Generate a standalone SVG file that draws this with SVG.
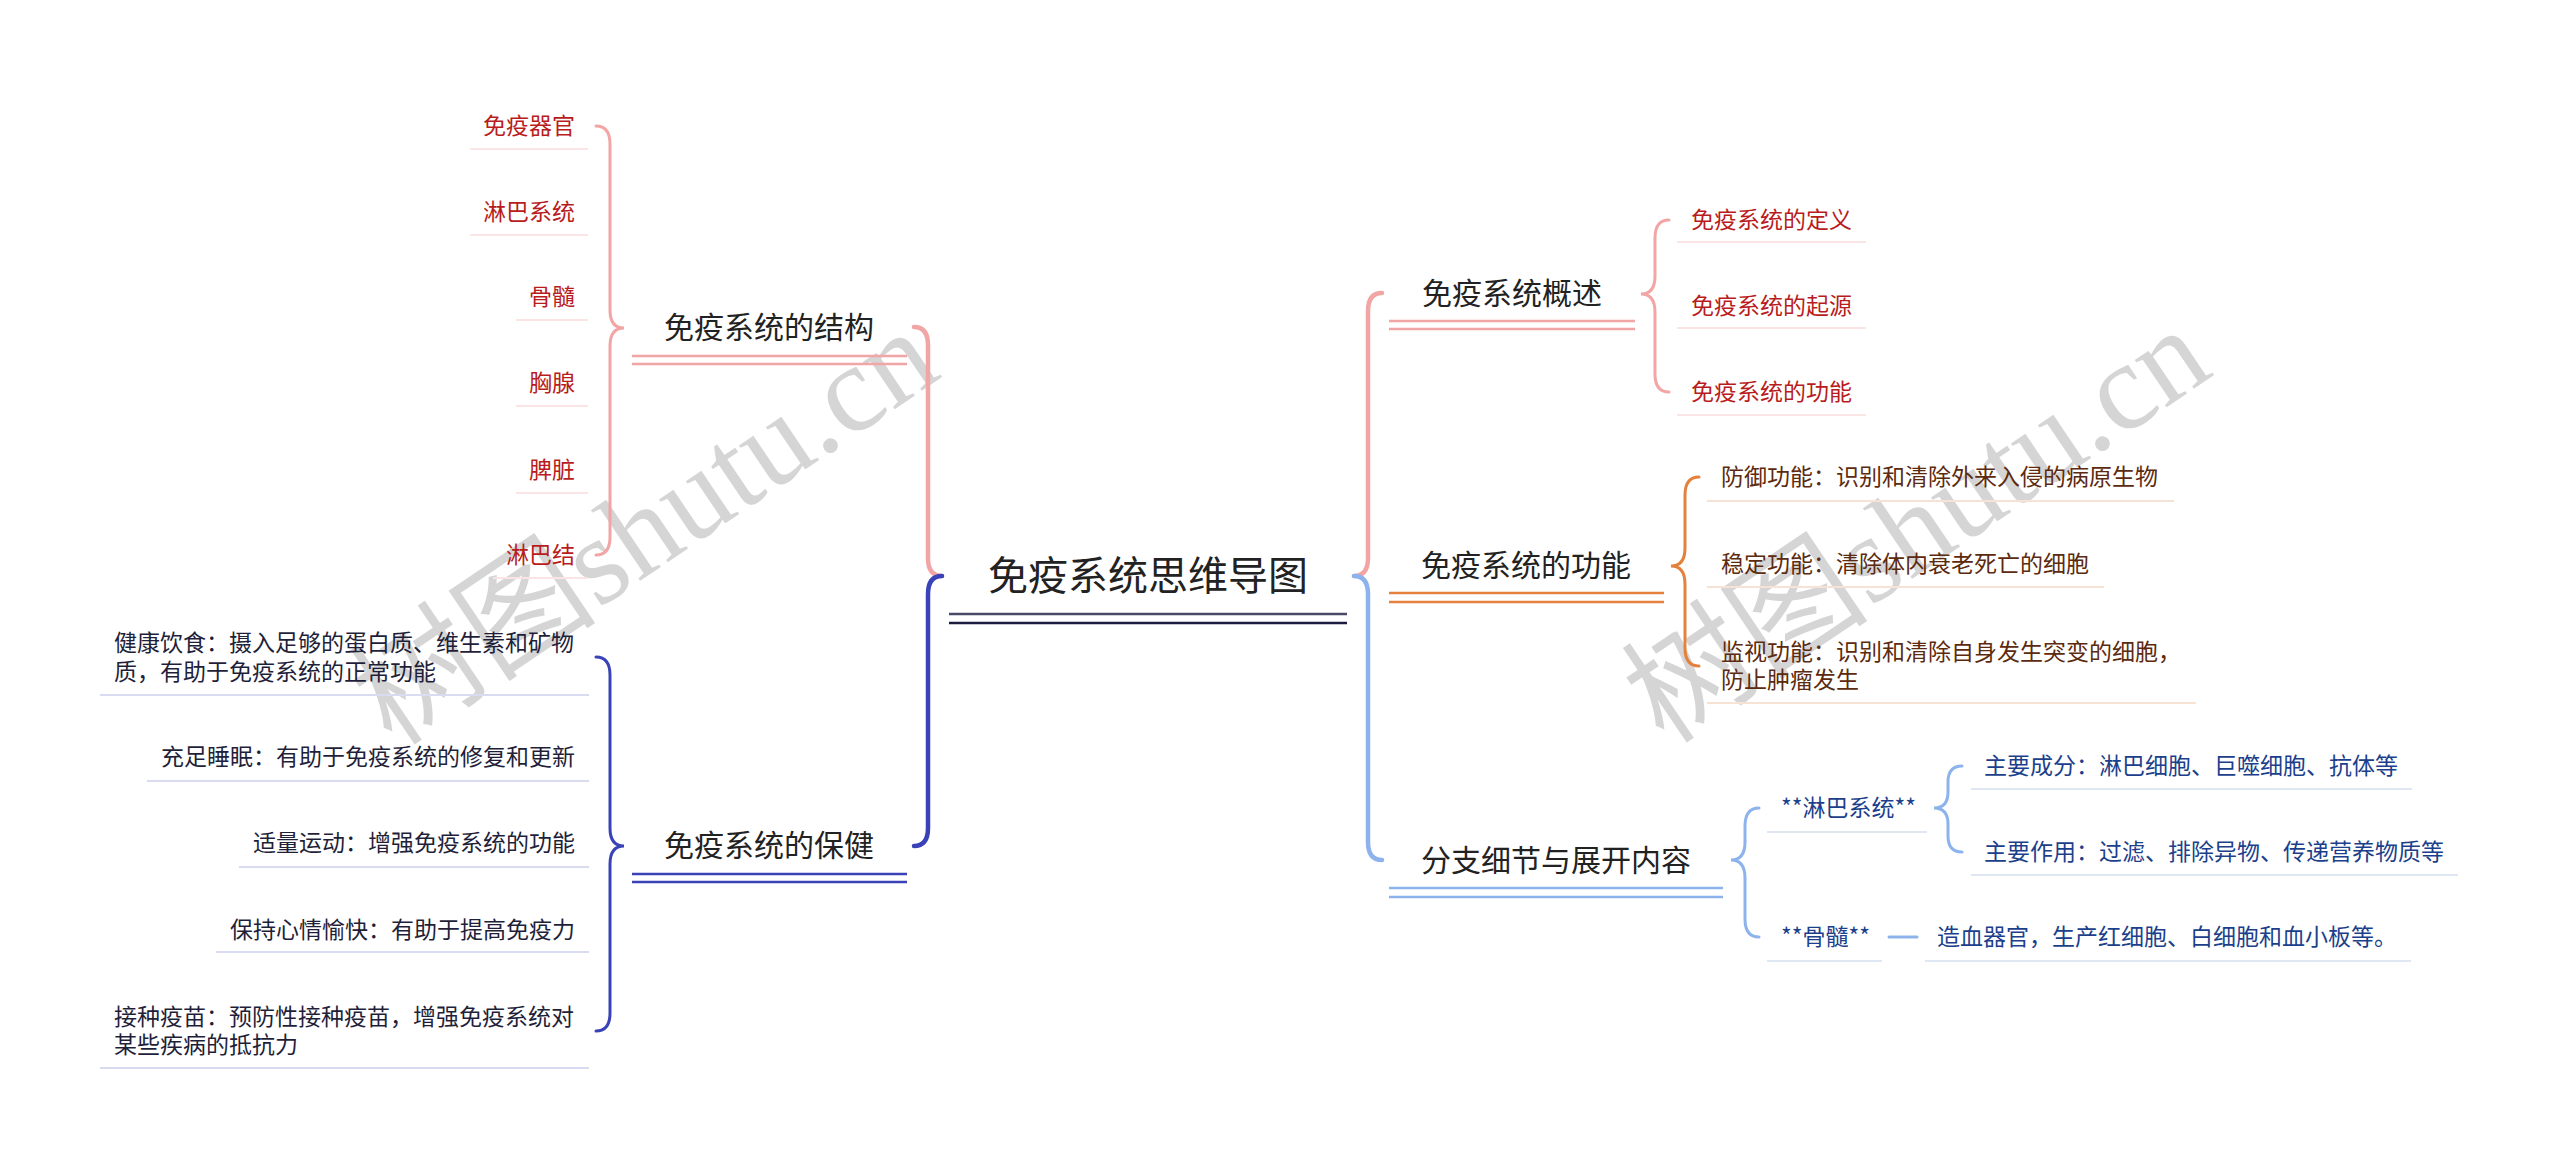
<svg xmlns="http://www.w3.org/2000/svg" width="2560" height="1168" viewBox="0 0 2560 1168">
<style>
text{font-family:"Noto Sans CJK SC","Noto Sans",sans-serif}
.root{font-size:40px;fill:#222}
.main{font-size:30px;fill:#222}
.leaf{font-size:23px}
.red{fill:#b81c1c}
.navy{fill:#1f1f3a}
.brown{fill:#5c2a0e}
.blue{fill:#1c3f8c}
.br{fill:none;stroke-linecap:round}
.pink{stroke:#f2a5a5}
.dblue{stroke:#3a42b8}
.lblue{stroke:#8db3ec}
.orange{stroke:#e4813c}
.ul{stroke-width:2.5;fill:none}
.lul{stroke-width:2;fill:none}
.wm{font-size:124px;fill:#9c9c9c;opacity:0.42}
</style>
<rect width="2560" height="1168" fill="#fff"/>

<g id="watermarks">
<text class="wm" transform="translate(668 562) rotate(-34)" text-anchor="middle">树图<tspan font-family="Liberation Serif, serif">shutu.cn</tspan></text>
<text class="wm" transform="translate(1940 560) rotate(-34)" text-anchor="middle">树图<tspan font-family="Liberation Serif, serif">shutu.cn</tspan></text>
</g>

<g id="connectors">
<path class="br pink" stroke-width="4.5" d="M914 327 Q928 327 928 345 L928 558 Q928 576 942 576"/>
<path class="br dblue" stroke-width="4.5" d="M942 576 Q928 576 928 594 L928 828 Q928 846 914 846"/>
<path class="br pink" stroke-width="4.5" d="M1382 293 Q1368 293 1368 311 L1368 558 Q1368 576 1354 576"/>
<path class="br lblue" stroke-width="4.5" d="M1354 576 Q1368 576 1368 594 L1368 842 Q1368 860 1382 860"/>
<path class="br pink" stroke-width="3" d="M596 126 Q610 126 610 144 L610 310 Q610 328 624 328 Q610 328 610 346 L610 537 Q610 555 596 555"/>
<path class="br dblue" stroke-width="3" d="M596 657 Q610 657 610 675 L610 828 Q610 846 624 846 Q610 846 610 864 L610 1013 Q610 1031 596 1031"/>
<path class="br pink" stroke-width="3" d="M1669 220 Q1655 220 1655 238 L1655 276 Q1655 294 1641 294 Q1655 294 1655 312 L1655 374 Q1655 392 1669 392"/>
<path class="br orange" stroke-width="3" d="M1699 477 Q1685 477 1685 495 L1685 548 Q1685 566 1671 566 Q1685 566 1685 584 L1685 648 Q1685 666 1699 666"/>
<path class="br lblue" stroke-width="3" d="M1759 808 Q1745 808 1745 826 L1745 842 Q1745 860 1731 860 Q1745 860 1745 878 L1745 919 Q1745 937 1759 937"/>
<path class="br lblue" stroke-width="3" d="M1962 766 Q1948 766 1948 782 L1948 792 Q1948 808 1934 808 Q1948 808 1948 824 L1948 836 Q1948 852 1962 852"/>
<path class="br lblue" stroke-width="3" d="M1889 937 L1917 937"/>
</g>

<g id="root">
<text class="root" x="1148" y="590" text-anchor="middle">免疫系统思维导图</text>
<path class="ul" stroke="#4a4a66" d="M949 614 H1347"/>
<path class="ul" stroke="#1c1c40" d="M949 623 H1347"/>
</g>

<g id="n-structure">
<text class="main" x="769" y="338" text-anchor="middle">免疫系统的结构</text>
<path class="ul pink" d="M632 356 H907 M632 364 H907"/>
</g>
<g id="n-care">
<text class="main" x="769" y="856" text-anchor="middle">免疫系统的保健</text>
<path class="ul dblue" d="M632 874 H907 M632 882 H907"/>
</g>
<g id="n-overview">
<text class="main" x="1512" y="304" text-anchor="middle">免疫系统概述</text>
<path class="ul pink" d="M1389 321 H1635 M1389 329 H1635"/>
</g>
<g id="n-function">
<text class="main" x="1526" y="576" text-anchor="middle">免疫系统的功能</text>
<path class="ul orange" d="M1389 593 H1664 M1389 602 H1664"/>
</g>
<g id="n-branch">
<text class="main" x="1556" y="871" text-anchor="middle">分支细节与展开内容</text>
<path class="ul lblue" d="M1389 888 H1723 M1389 897 H1723"/>
</g>

<g id="s1"><text class="leaf red" x="575" y="134" text-anchor="end">免疫器官</text><path class="lul" stroke="#fbe4e4" d="M470 149 H588"/></g>
<g id="s2"><text class="leaf red" x="575" y="220" text-anchor="end">淋巴系统</text><path class="lul" stroke="#fbe4e4" d="M470 235 H588"/></g>
<g id="s3"><text class="leaf red" x="575" y="305" text-anchor="end">骨髓</text><path class="lul" stroke="#fbe4e4" d="M516 320 H588"/></g>
<g id="s4"><text class="leaf red" x="575" y="391" text-anchor="end">胸腺</text><path class="lul" stroke="#fbe4e4" d="M516 406 H588"/></g>
<g id="s5"><text class="leaf red" x="575" y="478" text-anchor="end">脾脏</text><path class="lul" stroke="#fbe4e4" d="M516 493 H588"/></g>
<g id="s6"><text class="leaf red" x="575" y="563" text-anchor="end">淋巴结</text><path class="lul" stroke="#fbe4e4" d="M493 578 H588"/></g>

<g id="c1"><text class="leaf navy" x="114" y="651">健康饮食：摄入足够的蛋白质、维生素和矿物</text><text class="leaf navy" x="114" y="680">质，有助于免疫系统的正常功能</text><path class="lul" stroke="#d9dcf0" d="M100 695 H589"/></g>
<g id="c2"><text class="leaf navy" x="575" y="765" text-anchor="end">充足睡眠：有助于免疫系统的修复和更新</text><path class="lul" stroke="#d9dcf0" d="M147 781 H589"/></g>
<g id="c3"><text class="leaf navy" x="575" y="851" text-anchor="end">适量运动：增强免疫系统的功能</text><path class="lul" stroke="#d9dcf0" d="M239 867 H589"/></g>
<g id="c4"><text class="leaf navy" x="575" y="938" text-anchor="end">保持心情愉快：有助于提高免疫力</text><path class="lul" stroke="#d9dcf0" d="M216 952 H589"/></g>
<g id="c5"><text class="leaf navy" x="114" y="1025">接种疫苗：预防性接种疫苗，增强免疫系统对</text><text class="leaf navy" x="114" y="1053">某些疾病的抵抗力</text><path class="lul" stroke="#d9dcf0" d="M100 1068 H589"/></g>

<g id="o1"><text class="leaf red" x="1691" y="228">免疫系统的定义</text><path class="lul" stroke="#fbe4e4" d="M1677 242 H1866"/></g>
<g id="o2"><text class="leaf red" x="1691" y="314">免疫系统的起源</text><path class="lul" stroke="#fbe4e4" d="M1677 328 H1866"/></g>
<g id="o3"><text class="leaf red" x="1691" y="400">免疫系统的功能</text><path class="lul" stroke="#fbe4e4" d="M1677 415 H1866"/></g>

<g id="f1"><text class="leaf brown" x="1721" y="485">防御功能：识别和清除外来入侵的病原生物</text><path class="lul" stroke="#f7e2d6" d="M1707 501 H2174"/></g>
<g id="f2"><text class="leaf brown" x="1721" y="572">稳定功能：清除体内衰老死亡的细胞</text><path class="lul" stroke="#f7e2d6" d="M1707 587 H2104"/></g>
<g id="f3"><text class="leaf brown" x="1721" y="660">监视功能：识别和清除自身发生突变的细胞，</text><text class="leaf brown" x="1721" y="688">防止肿瘤发生</text><path class="lul" stroke="#f7e2d6" d="M1707 703 H2196"/></g>

<g id="b1"><text class="leaf blue" x="1781" y="816">**淋巴系统**</text><path class="lul" stroke="#dfe7f3" d="M1767 832 H1927"/></g>
<g id="b11"><text class="leaf blue" x="1984" y="774">主要成分：淋巴细胞、巨噬细胞、抗体等</text><path class="lul" stroke="#dfe7f3" d="M1971 789 H2412"/></g>
<g id="b12"><text class="leaf blue" x="1984" y="860">主要作用：过滤、排除异物、传递营养物质等</text><path class="lul" stroke="#dfe7f3" d="M1971 875 H2458"/></g>
<g id="b2"><text class="leaf blue" x="1781" y="945">**骨髓**</text><path class="lul" stroke="#dfe7f3" d="M1767 961 H1882"/></g>
<g id="b21"><text class="leaf blue" x="1937" y="945">造血器官，生产红细胞、白细胞和血小板等。</text><path class="lul" stroke="#dfe7f3" d="M1925 961 H2411"/></g>
</svg>
